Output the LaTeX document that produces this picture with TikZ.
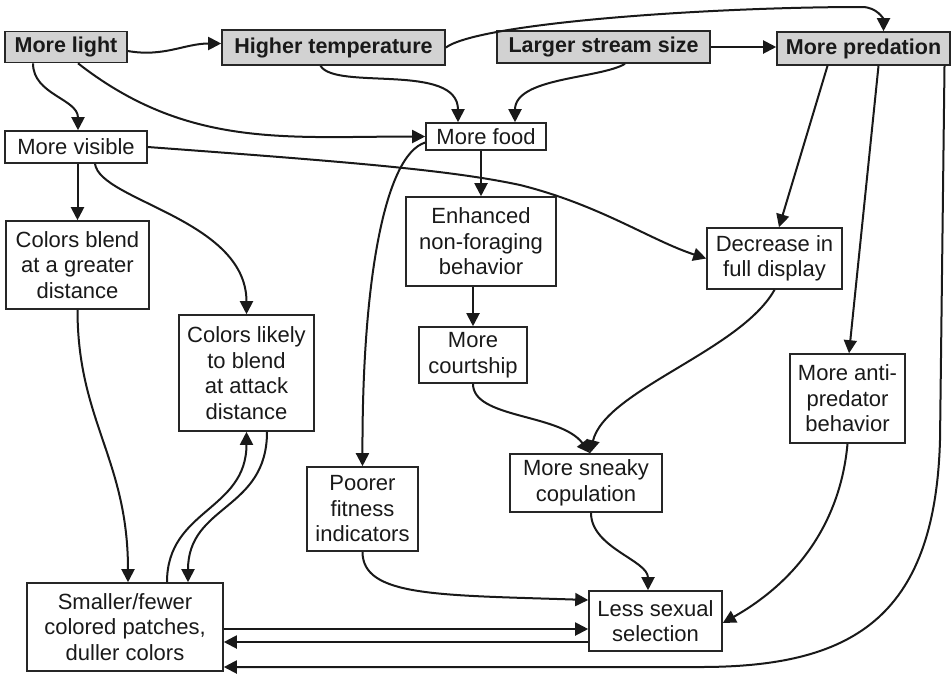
\documentclass[tikz,border=0pt]{standalone}
\usepackage{fontspec}
\setmainfont{Liberation Sans}
\usetikzlibrary{arrows.meta,calc}
\begin{document}
\begin{tikzpicture}[x=1pt,y=-1pt,
  box/.style={draw=black!85,line width=1.6pt,inner sep=0pt,align=center,font=\fontsize{22}{25.5}\selectfont,text=black!90},
  gbox/.style={box,fill=gray!35,font=\fontsize{21.5}{25}\selectfont\bfseries},
  arr/.style={line width=2pt,draw=black!90,-{Triangle[length=13pt,width=13pt]}}]
\useasboundingbox (0,0) rectangle (952,673);

% top row
\node[gbox,minimum width=122pt,minimum height=31pt] (light) at (66,47) {More light};
\node[gbox,minimum width=223pt,minimum height=35pt] (temp) at (333.5,47.5) {Higher temperature};
\node[gbox,minimum width=213pt,minimum height=32pt] (stream) at (603.5,47) {Larger stream size};
\node[gbox,minimum width=173pt,minimum height=33pt] (pred) at (863.5,48.5) {More predation};

% other nodes
\node[box,minimum width=142pt,minimum height=32pt] (visible) at (76,147) {More visible};
\node[box,minimum width=120pt,minimum height=27pt] (food) at (486,136.5) {More food};
\node[box,minimum width=143pt,minimum height=88pt] (blend) at (77.5,265) {Colors blend\\at a greater\\distance};
\node[box,minimum width=135pt,minimum height=116pt] (likely) at (246.5,373) {Colors likely\\to blend\\at attack\\distance};
\node[box,minimum width=150pt,minimum height=89pt] (enh) at (481,241.5) {Enhanced\\non-foraging\\behavior};
\node[box,minimum width=108pt,minimum height=56pt] (court) at (473,355) {More\\courtship};
\node[box,minimum width=135pt,minimum height=61pt] (decr) at (774.5,258.5) {Decrease in\\full display};
\node[box,minimum width=115pt,minimum height=89pt] (anti) at (847.5,398.5) {More anti-\\predator\\behavior};
\node[box,minimum width=111pt,minimum height=84pt] (poor) at (362.5,509) {Poorer\\fitness\\indicators};
\node[box,minimum width=152pt,minimum height=58pt] (sneaky) at (586,483) {More sneaky\\copulation};
\node[box,minimum width=133pt,minimum height=60pt] (less) at (655.5,621) {Less sexual\\selection};
\node[box,minimum width=196pt,minimum height=88pt] (smaller) at (125,627) {Smaller/fewer\\colored patches,\\duller colors};

\coordinate (tp) at (862,7);
\coordinate (rc1) at (940,440);
\coordinate (rc2) at (700,667);
\coordinate (vm) at (520,185);

% connectors
\draw[arr] ([yshift=-4pt]light.east) to[out=-10,in=180] ([yshift=4pt]temp.west);
\draw[arr] ([xshift=-33pt]light.south) to[out=-90,in=90] ([xshift=2pt]visible.north);
\draw[arr] ([xshift=12pt]light.south) to[out=-38,in=180] (food.west);
\draw[arr] ([xshift=-13pt]temp.south) .. controls +(15,25) and +(0,-60) .. ([xshift=-28pt]food.north);
\draw[arr] ([xshift=21.5pt]stream.south) .. controls +(-25,15) and +(0,-45) .. ([xshift=29pt]food.north);
\draw[arr] (stream.east) -- (stream.east -| pred.west);
\draw[arr] (temp.east) .. controls +(35,-25) and +(-150,0) .. (tp) .. controls +(15,0) and +(0,-12) .. ([xshift=20pt]pred.north);
\draw[arr] (visible.east) .. controls (350,162) and (450,170) .. (vm) .. controls (600,205) and (650,240) .. (decr.west);
\draw[arr] (visible.south -| blend.north) -- (blend.north);
\draw[arr] ([xshift=19pt]visible.south) .. controls +(5,37) and +(0,-95) .. (likely.north);
\draw[arr] ([yshift=-6pt]food.west) .. controls (385,155) and (362,280) .. (poor.north);
\draw[arr] (enh.north |- food.south) -- (enh.north);
\draw[arr] (court.north |- enh.south) -- (court.north);
\draw[arr] (court.south) .. controls +(0,35) and +(-30,-40) .. ([xshift=4pt]sneaky.north);
\draw[arr] (decr.south) .. controls +(-34,61) and +(15,-63) .. ([xshift=4pt]sneaky.north);
\draw[arr] ([xshift=-36pt]pred.south) -- ([xshift=4.5pt]decr.north);
\draw[arr] ([xshift=15pt]pred.south) -- ([xshift=1.5pt]anti.north);
\draw[arr] ([xshift=81pt]pred.south) -- (rc1) .. controls (935,620) and (850,667) .. (rc2) -- ([yshift=-40pt]smaller.east);
\draw[arr] (anti.south) .. controls +(-7,77) and +(76,-43) .. ([yshift=-2pt]less.east);
\draw[arr] ([xshift=5pt]sneaky.south) .. controls +(0,35) and +(0,-30) .. ([xshift=-7.5pt]less.north);
\draw[arr] (poor.south) .. controls +(0,45) and +(-150,-5) .. ([yshift=21pt]less.west);
\draw[arr] ([yshift=-2pt]smaller.east) -- ([yshift=-8pt]less.west);
\draw[arr] ([yshift=-21pt]less.west) -- ([yshift=-15pt]smaller.east);
\draw[arr] (blend.south) .. controls +(0,111) and +(0,-123) .. ([xshift=3pt]smaller.north);
\draw[arr] ([xshift=42pt]smaller.north) .. controls +(0,-73) and +(0,79) .. (likely.south);
\draw[arr] ([xshift=20.5pt]likely.south) .. controls +(0,79) and +(0,-78) .. ([xshift=63pt]smaller.north);
\end{tikzpicture}
\end{document}
